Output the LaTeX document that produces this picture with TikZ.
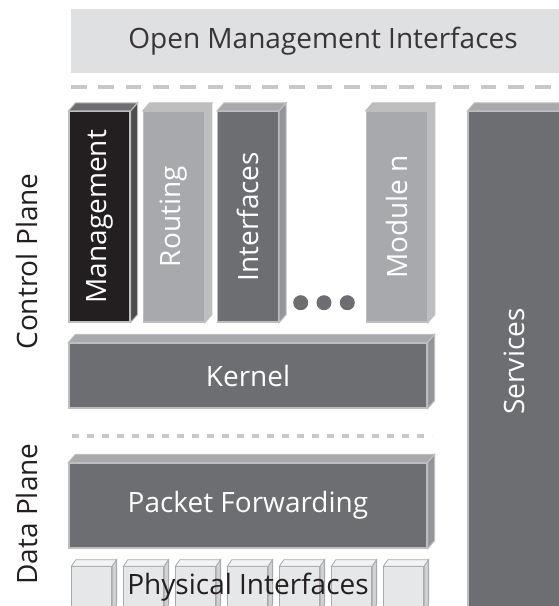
\documentclass[tikz,border=0pt]{standalone}
\usepackage{fontspec}
\setsansfont{Open Sans}
\usetikzlibrary{positioning,calc}

\begin{document}
\begin{tikzpicture}[x=1pt, y=-1pt, font=\sffamily]
		\definecolor{darkbase}{HTML}{6D6E71}
		\definecolor{lightbase}{HTML}{A7A9AC}
		\definecolor{blackbase}{HTML}{231F20}
		\definecolor{edgecolor}{HTML}{BCBEC0}
		\definecolor{sidecolor}{HTML}{939598}
		\definecolor{panelcolor}{HTML}{DFE0E2}
		\definecolor{portcolor}{HTML}{E6E7E8}
		\definecolor{dashcolor}{HTML}{C7C8CA}
		\tikzset{lbl/.style={font=\sffamily\fontsize{28}{33}\selectfont}}
		\tikzset{front/.style={lbl,draw=edgecolor,line width=1.2pt,inner sep=0pt,text=white}}
		\tikzset{module/.style={front,minimum width=61,minimum height=210.5}}
		\tikzset{slab/.style={front,fill=darkbase,minimum width=358}}
		\tikzset{face/.style={draw=edgecolor,line width=1pt}}
		\tikzset{port/.style={draw=lightbase,line width=0.8pt,fill=portcolor,minimum width=40,minimum height=44,inner sep=0pt}}
		\tikzset{sep/.style={dashcolor,line width=4.3pt}}

		\useasboundingbox (0,0) rectangle (559,606);
		\clip (0,0) rectangle (559,606);

		% Open management interfaces
		\node[lbl,fill=panelcolor,text=blackbase!90,minimum width=504,minimum height=63.7,inner sep=0pt] (panel) at (323,41) {Open Management Interfaces};
		\draw[sep,dash pattern=on 15.7pt off 11.6pt] (71,87.3) -- (559,87.3);

		% Plane labels
		\node[lbl,rotate=90,text=blackbase] (ctrl) at (27,261.5) {Control Plane};
		\node[lbl,rotate=90,text=blackbase] (data) at (27,514) {Data Plane};

		% Modules
		\node[module,fill=blackbase] (mgmt) at (99.5,216.75) {\rotatebox{90}{Management}};
		\node[module,fill=lightbase] (routing) at (173.8,216.75) {\rotatebox{90}{Routing}};
		\node[module,fill=darkbase] (ifaces) at (248.1,216.75) {\rotatebox{90}{Interfaces}};
		\node[module,fill=lightbase] (modn) at (396.7,216.75) {\rotatebox{90}{Module n}};
		\foreach \i/\x in {1/300.7,2/324,3/347.3}
			\node[circle,fill=darkbase,minimum size=15,inner sep=0pt] (dot\i) at (\x,302.7) {};

		% Kernel
		\node[slab,minimum height=65] (kernel) at (248,375.5) {Kernel};
		\draw[sep,dash pattern=on 7pt off 8pt] (71.7,435.7) -- (431.7,435.7);

		% Packet forwarding
		\node[slab,minimum height=85] (pfe) at (248,505.5) {Packet Forwarding};

		% Services
		\node[front,fill=darkbase,minimum width=92,minimum height=500] (services) at (514,361.5) {\rotatebox{90}{Services}};

		% Top and side faces
		\foreach \n/\tc/\sc in {mgmt/darkbase/blackbase!80!white,routing/edgecolor/edgecolor,ifaces/lightbase/sidecolor,modn/edgecolor/edgecolor,kernel/lightbase/sidecolor,pfe/lightbase/sidecolor,services/lightbase/sidecolor} {
			\filldraw[face,fill=\tc] (\n.north west) -- ++(7,-8) -- ([shift={(7,-8)}]\n.north east) -- (\n.north east) -- cycle;
			\filldraw[face,fill=\sc] (\n.north east) -- ++(7,-8) -- ([shift={(7,-8)}]\n.south east) -- (\n.south east) -- cycle;
		}

		% Physical interfaces
		\foreach \i in {0,...,6} {
			\node[port] (port\i) at ({91.7+52*\i},588.7) {};
			\filldraw[draw=lightbase,line width=0.8pt,fill=portcolor!50!white] (port\i.north west) -- ++(4.5,-6.5) -- ([shift={(4.5,-6.5)}]port\i.north east) -- (port\i.north east) -- cycle;
			\filldraw[draw=lightbase,line width=0.8pt,fill=edgecolor!70!white] (port\i.north east) -- ++(4.5,-6.5) -- ([shift={(4.5,-6.5)}]port\i.south east) -- (port\i.south east) -- cycle;
		}
		\node[lbl,text=blackbase] (phys) at (248,587) {Physical Interfaces};
	\end{tikzpicture}
\end{document}
